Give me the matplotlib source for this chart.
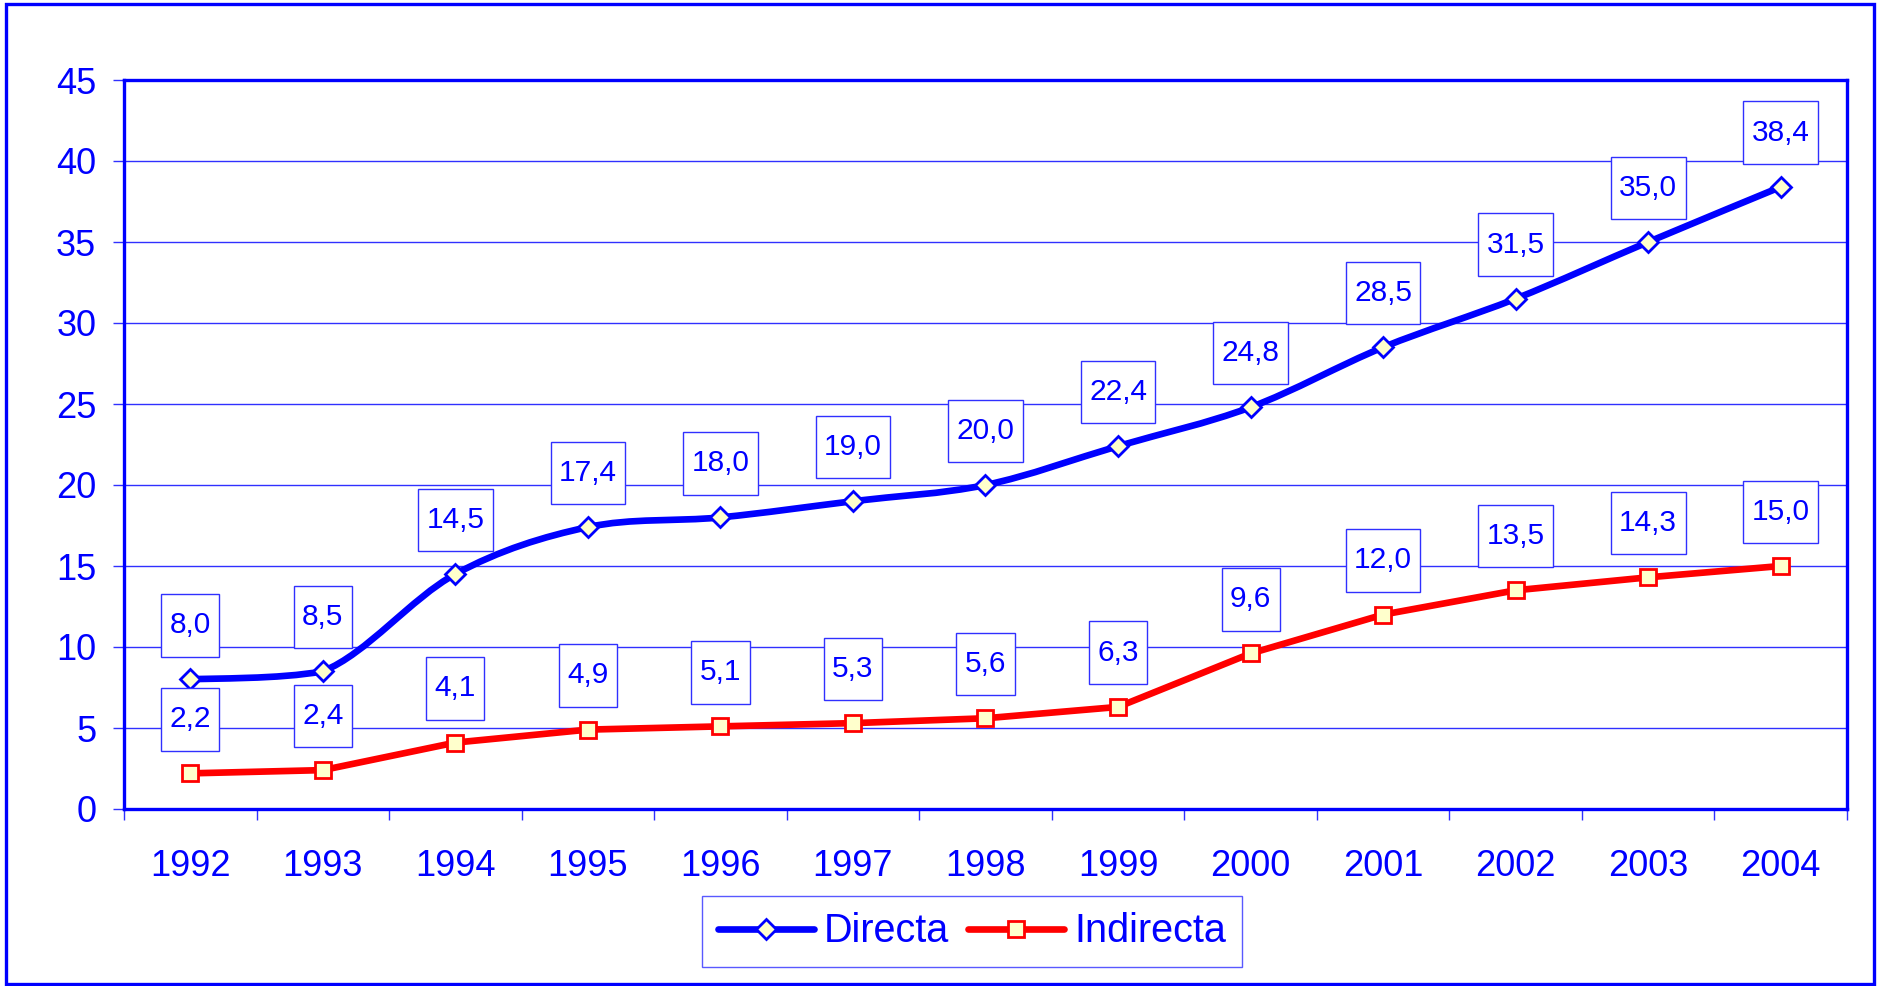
import matplotlib
matplotlib.use('Agg')

import matplotlib.pyplot as plt
from matplotlib.path import Path
from matplotlib.patches import PathPatch, Rectangle
from matplotlib.lines import Line2D
import numpy as np

plt.rcParams['font.family'] = ['Liberation Sans', 'DejaVu Sans']

# Data
years = ['1992', '1993', '1994', '1995', '1996', '1997', '1998',
         '1999', '2000', '2001', '2002', '2003', '2004']
directa = [8.0, 8.5, 14.5, 17.4, 18.0, 19.0, 20.0, 22.4, 24.8, 28.5, 31.5, 35.0, 38.4]
indirecta = [2.2, 2.4, 4.1, 4.9, 5.1, 5.3, 5.6, 6.3, 9.6, 12.0, 13.5, 14.3, 15.0]
y_ticks = [0, 5, 10, 15, 20, 25, 30, 35, 40, 45]

BLUE = '#0000ff'
GRID = '#3030ff'
RED = '#ff0000'
FILL = '#ffffcc'
LW = 4.8


def smooth_path(xs, ys):
    """Bezier path through the points (Excel-style smoothed line)."""
    pts = np.column_stack([xs, ys]).astype(float)
    n = len(pts)
    verts = [pts[0]]
    codes = [Path.MOVETO]
    for i in range(n - 1):
        p0 = pts[i - 1] if i > 0 else pts[i]
        p1 = pts[i]
        p2 = pts[i + 1]
        p3 = pts[i + 2] if i + 2 < n else pts[i + 1]
        c1 = p1 + (p2 - p0) / 6.0
        c2 = p2 - (p3 - p1) / 6.0
        lo, hi = min(p1[1], p2[1]), max(p1[1], p2[1])
        c1[1] = np.clip(c1[1], lo, hi)
        c2[1] = np.clip(c2[1], lo, hi)
        verts += [c1, c2, p2]
        codes += [Path.CURVE4] * 3
    return Path(verts, codes)


def label_box(x0, y0, width, height, mutation_size):
    # square box, tight at the sides and taller above/below the text
    px = 0.28 * mutation_size
    py = 0.58 * mutation_size
    return Path([(x0 - px, y0 - py), (x0 + width + px, y0 - py),
                 (x0 + width + px, y0 + height + py), (x0 - px, y0 + height + py),
                 (x0 - px, y0 - py)], closed=True)


fig = plt.figure(figsize=(18.77, 9.86), dpi=100)
ax = fig.add_axes([124 / 1877, 1 - 809 / 986, (1847 - 124) / 1877, (809 - 80) / 986])

# outer frame
fig.patches.append(Rectangle((0.003, 0.002), 0.9955, 0.9935, transform=fig.transFigure,
                             fill=False, edgecolor=BLUE, linewidth=2.4))

x = np.arange(len(years))

# Directa: smoothed line
ax.add_patch(PathPatch(smooth_path(x, directa), fill=False, edgecolor=BLUE,
                       linewidth=LW, capstyle='round', joinstyle='round', zorder=3))
ax.plot(x, directa, linestyle='none', marker='D', markersize=10.5,
        markerfacecolor=FILL, markeredgecolor=BLUE, markeredgewidth=2, zorder=4)

# Indirecta: straight line
ax.plot(x, indirecta, color=RED, linewidth=LW, marker='s', markersize=12,
        markerfacecolor=FILL, markeredgecolor=RED, markeredgewidth=2, zorder=4,
        solid_capstyle='round')

# value labels
for series in (directa, indirecta):
    for i, v in enumerate(series):
        ax.annotate(f"{v:.1f}".replace('.', ','), (i, v), xytext=(0, 39),
                    textcoords='offset points', ha='center', va='center',
                    fontsize=21.5, color=BLUE, zorder=5,
                    bbox=dict(boxstyle=label_box, facecolor='white',
                              edgecolor=GRID, linewidth=1))

ax.set_xlim(-0.5, len(years) - 0.5)
ax.set_ylim(0, 45)
ax.set_yticks(y_ticks)
ax.set_yticklabels([str(t) for t in y_ticks])
ax.set_xticks(x)
ax.set_xticklabels(years)
ax.set_xticks(np.arange(-0.5, len(years), 1), minor=True)

ax.tick_params(axis='x', which='major', length=0, pad=28.5, labelsize=26, labelcolor=BLUE)
ax.tick_params(axis='x', which='minor', length=8, width=1, color=GRID, direction='out')
ax.tick_params(axis='y', length=8, width=1, color=GRID, pad=12, labelsize=26,
               labelcolor=BLUE)

ax.grid(axis='y', color=GRID, linewidth=1)
ax.set_axisbelow(True)
for s in ax.spines.values():
    s.set_color(BLUE)
    s.set_linewidth(2.4)

handles = [
    Line2D([], [], color=BLUE, linewidth=LW, marker='D', markersize=10.5,
           markerfacecolor=FILL, markeredgecolor=BLUE, markeredgewidth=2,
           solid_capstyle='round'),
    Line2D([], [], color=RED, linewidth=LW, marker='s', markersize=12,
           markerfacecolor=FILL, markeredgecolor=RED, markeredgewidth=2,
           solid_capstyle='round'),
]
leg = fig.legend(handles, ['Directa', 'Indirecta'], loc='center',
                 bbox_to_anchor=(0.5179, 0.0553), ncol=2, fontsize=28.5,
                 frameon=True, fancybox=False, shadow=False, handlelength=2.42,
                 handletextpad=0.25, columnspacing=0.48, borderpad=0.42,
                 labelcolor=BLUE)
leg.get_frame().set_edgecolor(GRID)
leg.get_frame().set_linewidth(1)

fig.savefig('out.png', dpi=100)
